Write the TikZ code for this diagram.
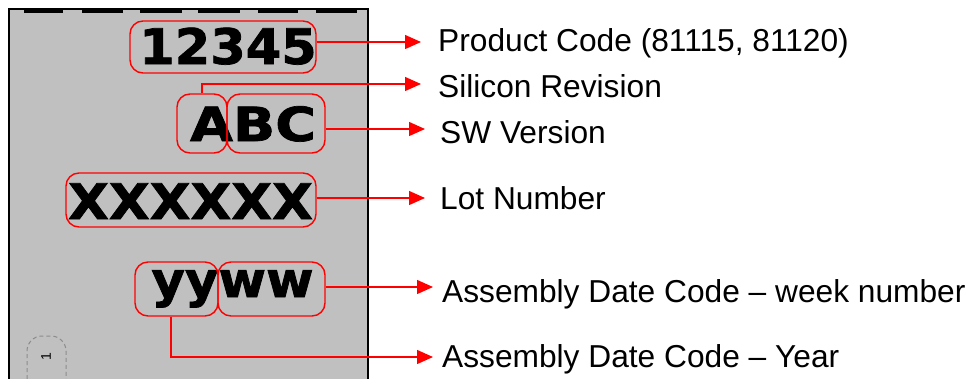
\documentclass[tikz,border=0pt]{standalone}
\usepackage{fontspec}
\usepackage{graphicx}
\setmainfont{Liberation Sans}
\newfontfamily\markfont{DejaVu Sans}[BoldFeatures={FakeBold=1.5}]
\usetikzlibrary{arrows.meta}
\definecolor{chip}{RGB}{192,192,192}
\definecolor{mred}{RGB}{255,0,0}
\definecolor{dgray}{RGB}{140,140,140}
\begin{document}
\begin{tikzpicture}[x=1pt,y=-1pt,
  redbox/.style={draw=mred, line width=1.4pt, rounded corners=13pt, inner sep=0pt},
  marktext/.style={font=\markfont\bfseries\fontsize{49}{50}\selectfont, inner sep=0pt, anchor=base},
  lbl/.style={font=\fontsize{31.7}{36}\selectfont, inner sep=0pt, anchor=base west},
  arr/.style={draw=mred, line width=1.4pt, -{Triangle[length=16pt,width=14pt]}}
]
\useasboundingbox (0,0) rectangle (973,378);
% chip body
\begin{scope}
  \clip (0,0) rectangle (973,378);
  \fill[chip] (9,9) rectangle (368,395);
  \draw[line width=1.5pt] (9,395) -- (9,9) -- (368,9) -- (368,395);
  \draw[dgray, line width=1pt, dash pattern=on 4pt off 3pt, rounded corners=15pt]
    (27,400) -- (27,336) -- (66,336) -- (66,400);
\end{scope}
\foreach \a/\b in {24/63,82/123,140/182,198/240,258/298,316/357}
  \draw[line width=4pt] (\a,11) -- (\b,11);
\node[rotate=90, inner sep=0pt, font=\fontsize{14}{14}\selectfont] (one) at (46,357) {1};

% marking texts
\node[marktext] (m1) at (228,64) {\scalebox{1.04}[1]{12345}};
\node[marktext, font=\markfont\bfseries\fontsize{47}{48}\selectfont] (m2) at (253,141) {\scalebox{1.18}[1]{ABC}};
\node[marktext] (m3) at (190.5,219) {\scalebox{1.08}[1]{XXXXXX}};
\node[marktext] (m4) at (232.5,297) {\scalebox{1.05}[1]{yyww}};

% red boxes
\node[redbox, minimum width=186pt, minimum height=52pt] (pc) at (223,47) {};
\node[redbox, minimum width=50pt, minimum height=59pt] (sa) at (202,123.5) {};
\node[redbox, minimum width=98pt, minimum height=59pt] (sw) at (276,123.5) {};
\node[redbox, minimum width=250pt, minimum height=54pt] (lot) at (191,200) {};
\node[redbox, minimum width=83pt, minimum height=54pt] (yy) at (176.5,289) {};
\node[redbox, minimum width=107pt, minimum height=54pt] (ww) at (271.5,289) {};

% arrow end points
\coordinate (t1) at (421,42);
\coordinate (t2) at (421,84);
\coordinate (t3) at (425,129);
\coordinate (t4) at (425,198);
\coordinate (t5) at (433,287);
\coordinate (c6) at (171,357);
\coordinate (t6) at (433,357);

\draw[arr] (pc.east |- t1) -- (t1);
\draw[arr] (sa.north) -- (sa.north |- t2) -- (t2);
\draw[arr] (sw.east |- t3) -- (t3);
\draw[arr] (lot.east |- t4) -- (t4);
\draw[arr] (ww.east |- t5) -- (t5);
\draw[arr] (yy.south -| c6) -- (c6) -- (t6);

% labels
\node[lbl] (l1) at (438,51) {Product Code (81115, 81120)};
\node[lbl] (l2) at (438,97) {Silicon Revision};
\node[lbl] (l3) at (440,143) {SW Version};
\node[lbl] (l4) at (440,209) {Lot Number};
\node[lbl] (l5) at (442,302) {Assembly Date Code – week number};
\node[lbl] (l6) at (442,367) {Assembly Date Code – Year};
\end{tikzpicture}
\end{document}
